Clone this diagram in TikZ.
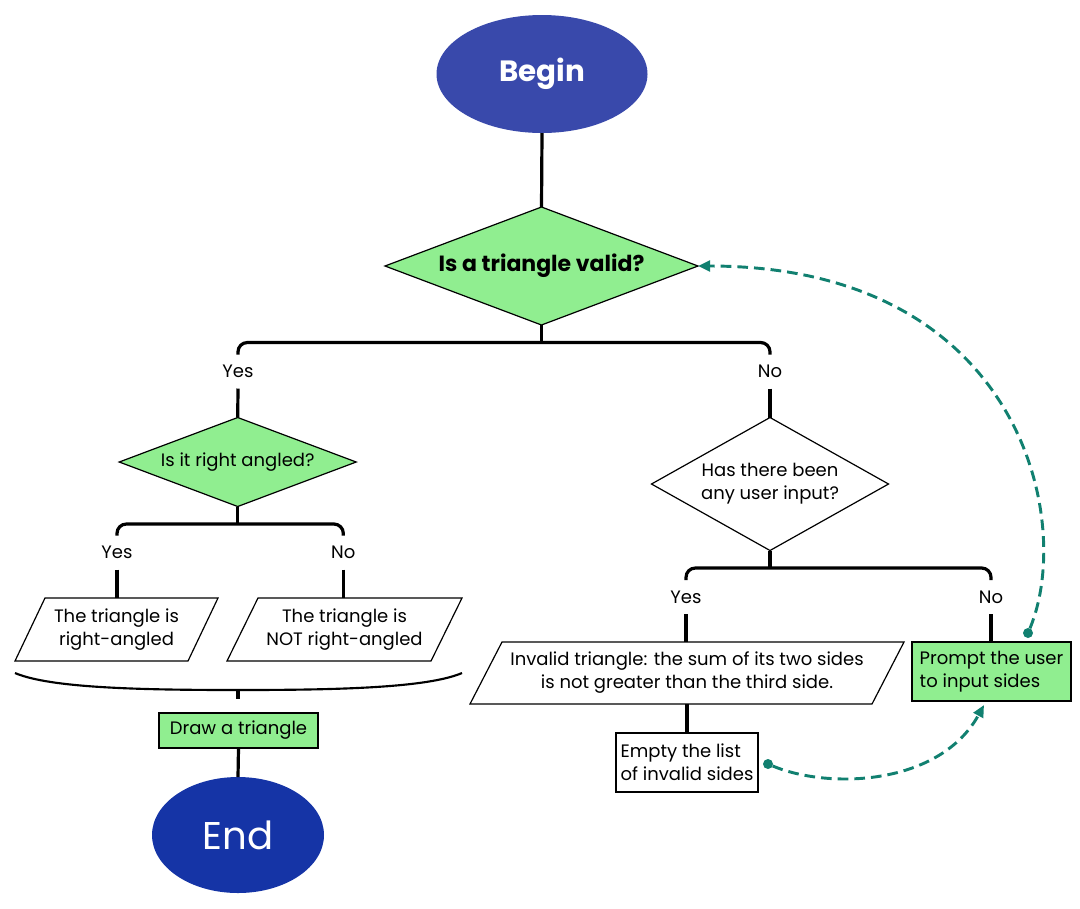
\documentclass[tikz,border=0pt]{standalone}
\usepackage{fontspec}
\setmainfont{Poppins}
\usetikzlibrary{shapes.geometric,arrows.meta,calc}
\definecolor{beginblue}{RGB}{57,73,171}
\definecolor{endblue}{RGB}{21,52,166}
\definecolor{boxgreen}{RGB}{144,238,144}
\definecolor{loopteal}{RGB}{17,128,112}
\def\pxu{0.75pt}
\begin{document}
\begin{tikzpicture}[x=0.75pt,y=-0.75pt,
  every node/.style={outer sep=0pt},
  conn/.style={line width=2.4pt, black},
  bracket/.style={conn, rounded corners=7pt},
  shapeline/.style={draw=black, line width=0.9pt},
  txt/.style={font=\fontsize{13.5}{17.25}\selectfont, align=center, text=black},
  lbl/.style={txt, inner sep=0pt, minimum height=34*\pxu},
  terminal/.style={ellipse, text=white, inner sep=0pt},
  decision/.style={diamond, shapeline, txt, inner sep=0pt},
  process/.style={rectangle, shapeline, txt, inner sep=0pt},
  ptext/.style={txt, inner sep=0pt},
  loop/.style={loopteal, line width=2.2pt, dash pattern=on 8pt off 4.5pt},
  loopdot/.style={circle, fill=loopteal, inner sep=0pt, minimum size=10*\pxu},
  looptip/.style={-{Triangle[length=9pt,width=8pt]}},
]
\useasboundingbox (0,0) rectangle (1080,908);

% terminals
\node[terminal, fill=beginblue, minimum width=211*\pxu, minimum height=118*\pxu,
      font=\fontsize{22}{26}\selectfont\bfseries] (begin) at (542,74) {Begin};
\node[terminal, fill=endblue, minimum width=172*\pxu, minimum height=116*\pxu,
      font=\fontsize{29}{34}\selectfont] (end) at (238,835) {End};

% decisions
\node[decision, fill=boxgreen, minimum width=313*\pxu, minimum height=118*\pxu, aspect=2.65,
      font=\fontsize{16.5}{20}\selectfont\bfseries] (d1) at (541.5,266) {Is a triangle valid?};
\node[decision, fill=boxgreen, minimum width=237*\pxu, minimum height=89*\pxu, aspect=2.66]
      (d2) at (237.7,462) {Is it right angled?};
\node[decision, fill=white, minimum width=237*\pxu, minimum height=133*\pxu, aspect=1.78]
      (d3) at (770,484) {Has there been\\any user input?};

% labels
\node[lbl] (y1) at (238,371.5) {Yes};
\node[lbl] (n1) at (770,371.5) {No};
\node[lbl] (y2) at (117,552.5) {Yes};
\node[lbl] (n2) at (343.3,552.5) {No};
\node[lbl] (y3) at (686,597) {Yes};
\node[lbl] (n3) at (991,597) {No};

% parallelogram texts
\node[ptext, minimum width=173*\pxu, minimum height=63*\pxu] (p1) at (116.5,629.5) {The triangle is\\right-angled};
\node[ptext, minimum width=204*\pxu, minimum height=63*\pxu] (p2) at (344.5,629.5) {The triangle is\\NOT right-angled};
\node[ptext, minimum width=402*\pxu, minimum height=62*\pxu] (inv) at (687,673) {Invalid triangle: the sum of its two sides\\is not greater than the third side.};
\draw[shapeline] ($(p1.north west)+(15,0)$) -- ($(p1.north east)+(15,0)$) -- ($(p1.south east)+(-15,0)$) -- ($(p1.south west)+(-15,0)$) -- cycle;
\draw[shapeline] ($(p2.north west)+(15.5,0)$) -- ($(p2.north east)+(15.5,0)$) -- ($(p2.south east)+(-15.5,0)$) -- ($(p2.south west)+(-15.5,0)$) -- cycle;
\draw[shapeline] ($(inv.north west)+(16,0)$) -- ($(inv.north east)+(16,0)$) -- ($(inv.south east)+(-16,0)$) -- ($(inv.south west)+(-16,0)$) -- cycle;

% processes
\node[process, fill=boxgreen, minimum width=159*\pxu, minimum height=35*\pxu] (draw) at (238.5,730.5) {Draw a triangle};
\node[process, fill=boxgreen, minimum width=159*\pxu, minimum height=59*\pxu, align=left] (prompt) at (991.5,671.5) {Prompt the user\\to input sides};
\node[process, fill=white, minimum width=142*\pxu, minimum height=59*\pxu, align=left] (empty) at (687,762.5) {Empty the list\\of invalid sides};

% main connectors
\draw[conn] (begin.south) -- (d1.north);
\draw[conn] (d1.south) -- ++(0,17.5) coordinate (j1);
\draw[bracket] (y1.north) |- (j1) -| (n1.north);
\draw[conn] (y1.south) -- (d2.north);
\draw[conn] (n1.south) -- (d3.north);

\draw[conn] (d2.south) -- ++(0,17.5) coordinate (j2);
\draw[bracket] (y2.north) |- (j2) -| (n2.north);
\draw[conn] (y2.south) -- (y2.south |- p1.north);
\draw[conn] (n2.south) -- (n2.south |- p2.north);

\draw[conn] (d3.south) -- ++(0,17.5) coordinate (j3);
\draw[bracket] (y3.north) |- (j3) -| (n3.north);
\draw[conn] (y3.south) -- (y3.south |- inv.north);
\draw[conn] (n3.south) -- (n3.south |- prompt.north);
\draw[conn] (inv.south) -- (empty.north);

% merging brace
\coordinate (brl) at (15,673);
\coordinate (brm) at (238,690);
\coordinate (brr) at (462,673);
\draw[line width=1.6pt] (brl) .. controls (50,688) and (140,690) .. (brm) .. controls (336,690) and (427,688) .. (brr);
\draw[conn] (brm) -- ++(0,9);
\draw[conn] (draw.south) -- (end.north);

% loops
\node[loopdot] (dot1) at (1028,633) {};
\node[loopdot] (dot2) at (768,764) {};
\coordinate (a2end) at (984,705);
\draw[loop, looptip] (dot1) .. controls (1075,520) and (1020,266) .. (d1.east);
\draw[loop, looptip] (dot2) .. controls (830,790) and (940,785) .. (a2end);
\end{tikzpicture}
\end{document}
